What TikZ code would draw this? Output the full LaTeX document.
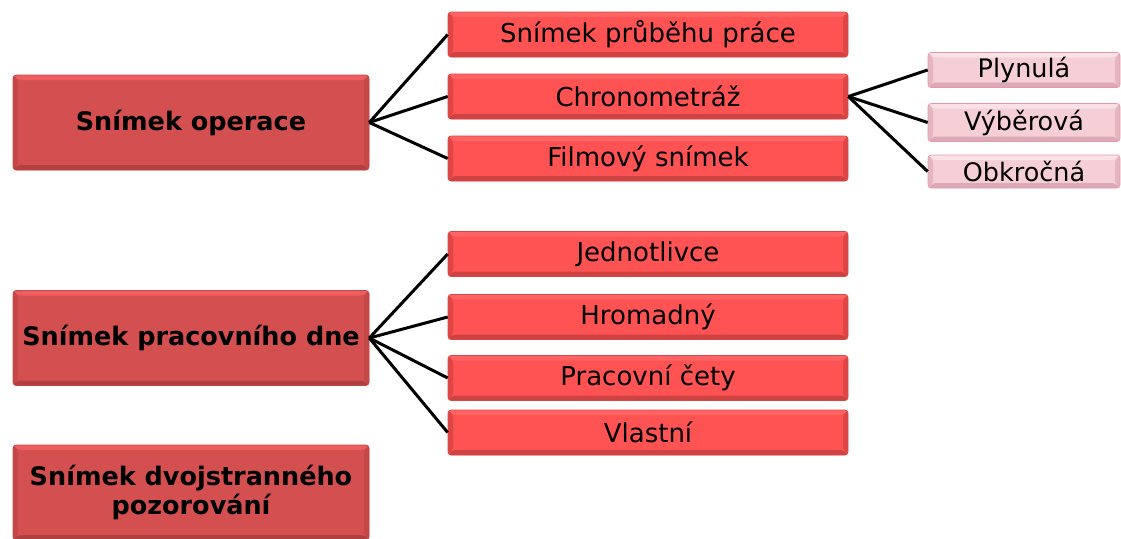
\documentclass[tikz,border=0pt]{standalone}
\usepackage{fontspec}
\setmainfont{DejaVu Sans}
\usetikzlibrary{calc}
\definecolor{lmain}{RGB}{212,80,80}
\definecolor{ltop}{RGB}{238,94,94}
\definecolor{lside}{RGB}{196,72,72}
\definecolor{ldark}{RGB}{176,64,64}
\definecolor{mmain}{RGB}{255,82,82}
\definecolor{mtop}{RGB}{255,100,100}
\definecolor{mside}{RGB}{222,70,70}
\definecolor{mdark}{RGB}{206,66,66}
\definecolor{rmain}{RGB}{245,206,214}
\definecolor{rtop}{RGB}{250,226,231}
\definecolor{rside}{RGB}{228,182,192}
\definecolor{rdark}{RGB}{220,170,182}
\definecolor{rborder}{RGB}{232,150,168}
\tikzset{
  bev/.style n args={5}{fill=#1, draw=#5, line width=0.6pt, rounded corners=3pt,
    path picture={
      \coordinate (pnw) at (path picture bounding box.north west);
      \coordinate (pne) at (path picture bounding box.north east);
      \coordinate (psw) at (path picture bounding box.south west);
      \coordinate (pse) at (path picture bounding box.south east);
      \fill[#2] (pnw) -- (pne) -- ($(pne)+(-5pt,-5pt)$) -- ($(pnw)+(5pt,-5pt)$) -- cycle;
      \fill[#3] (pnw) -- (psw) -- ($(psw)+(5pt,5pt)$) -- ($(pnw)+(5pt,-5pt)$) -- cycle;
      \fill[#3] (pne) -- (pse) -- ($(pse)+(-5pt,5pt)$) -- ($(pne)+(-5pt,-5pt)$) -- cycle;
      \fill[#4] (psw) -- (pse) -- ($(pse)+(-5pt,5pt)$) -- ($(psw)+(5pt,5pt)$) -- cycle;
    }},
  lbox/.style={bev={lmain}{ltop}{lside}{ldark}{lside}, minimum width=356pt, minimum height=95pt,
    inner sep=0pt, align=center, font=\fontsize{25.5}{28.5}\selectfont\bfseries},
  mbox/.style={bev={mmain}{mtop}{mside}{mdark}{mside}, minimum width=400pt, minimum height=45pt,
    inner sep=0pt, font=\fontsize{26}{29}\selectfont},
  rbox/.style={bev={rmain}{rtop}{rside}{rdark}{rborder}, minimum width=192pt, minimum height=35pt,
    inner sep=0pt, font=\fontsize{25.5}{28}\selectfont},
  conn/.style={draw=black, line width=3pt}
}
\begin{document}
\begin{tikzpicture}[x=1pt,y=-1pt]
\useasboundingbox (0,0) rectangle (1121,538);
% left boxes
\node[lbox] (op) at (191,122.5) {Snímek operace};
\node[lbox] (den) at (191,338) {Snímek pracovního dne};
\node[lbox] (dvoj) at (191,492.5) {Snímek dvojstranného\\pozorování};
% middle boxes
\node[mbox] (m1) at (648,34.5) {Snímek průběhu práce};
\node[mbox] (m2) at (648,96.5) {Chronometráž};
\node[mbox] (m3) at (648,158.5) {Filmový snímek};
\node[mbox] (m4) at (648,254) {Jednotlivce};
\node[mbox] (m5) at (648,317) {Hromadný};
\node[mbox] (m6) at (648,378) {Pracovní čety};
\node[mbox] (m7) at (648,432.5) {Vlastní};
% right boxes
\node[rbox] (r1) at (1024,70) {Plynulá};
\node[rbox, minimum height=38pt] (r2) at (1024,122.5) {Výběrová};
\node[rbox, minimum height=33pt] (r3) at (1024,171.5) {Obkročná};
% connectors
\foreach \t in {m1,m2,m3} \draw[conn] (op.east) -- (\t.west);
\foreach \t in {m4,m5,m6,m7} \draw[conn] (den.east) -- (\t.west);
\foreach \t in {r1,r2,r3} \draw[conn] (m2.east) -- (\t.west);
\end{tikzpicture}
\end{document}
